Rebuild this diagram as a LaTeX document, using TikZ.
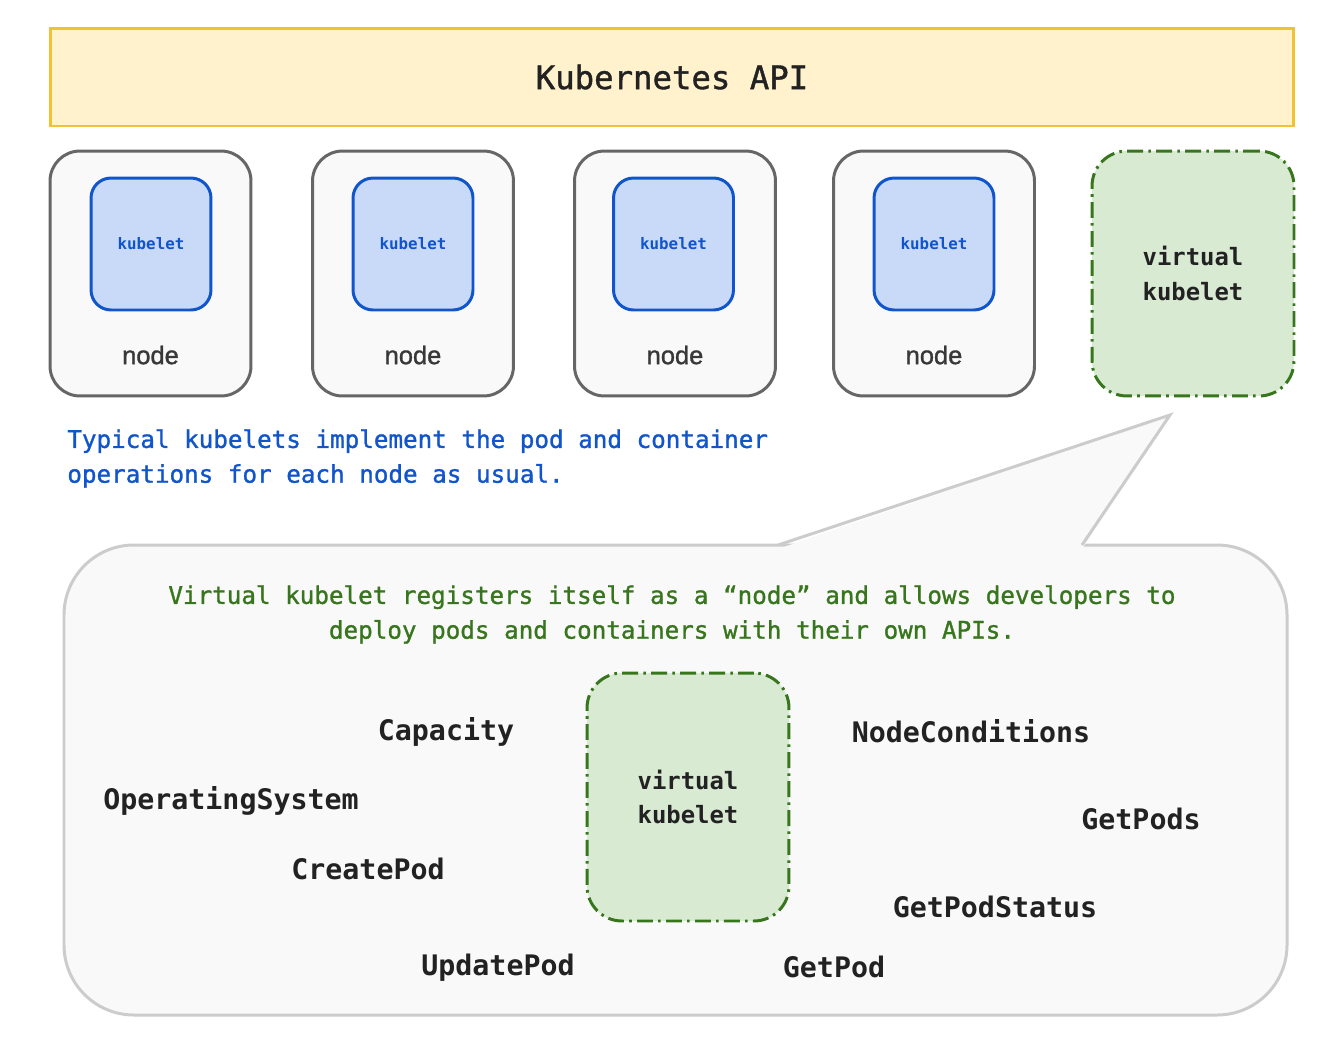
\documentclass[tikz,border=0pt]{standalone}
\usepackage{fontspec}
\setmainfont{Liberation Sans}
\setmonofont{DejaVu Sans Mono}
\newfontfamily\medmono[FakeBold=1.2]{DejaVu Sans Mono}
\newfontfamily\medsans[FakeBold=1.2]{Liberation Sans}
\usetikzlibrary{positioning}
\definecolor{apifill}{HTML}{FFF2CC}
\definecolor{apiline}{HTML}{F1C232}
\definecolor{boxfill}{HTML}{F9F9F9}
\definecolor{boxline}{HTML}{666666}
\definecolor{kubefill}{HTML}{C9DAF8}
\definecolor{kubeblue}{HTML}{1155CC}
\definecolor{vkfill}{HTML}{D9EAD3}
\definecolor{vkgreen}{HTML}{38761D}
\definecolor{calloutline}{HTML}{CCCCCC}
\definecolor{textdark}{HTML}{222222}

\begin{document}
\begin{tikzpicture}[x=0.02cm, y=-0.02cm,
    nodebox/.style={draw=boxline, line width=1.7pt, fill=boxfill, rounded corners=0.6cm, minimum width=4.02cm, minimum height=4.9cm},
    kubebox/.style={draw=kubeblue, line width=1.7pt, fill=kubefill, rounded corners=0.4cm, minimum width=2.4cm, minimum height=2.64cm, text=kubeblue, font=\ttfamily\bfseries\fontsize{9}{11}\selectfont},
    vkbox/.style={draw=vkgreen, line width=1.7pt, dash pattern=on 9pt off 3pt on 1.5pt off 3pt, fill=vkfill, rounded corners=0.7cm, minimum width=4.04cm, minimum height=4.9cm, align=center, text=textdark, font=\ttfamily\bfseries\fontsize{13.6}{19.8}\selectfont},
    nodelabel/.style={text=textdark!90, font=\medsans\fontsize{14.5}{17}\selectfont},
    apiname/.style={text=textdark, font=\medmono\fontsize{18.4}{22}\selectfont},
    note/.style={font=\medmono\fontsize{13.8}{19.8}\selectfont},
    op/.style={text=textdark, font=\ttfamily\bfseries\fontsize{16.1}{19}\selectfont}]

    \useasboundingbox[fill=white] (0,0) rectangle (1338,1056);

    % api bar
    \node (api) [draw=apiline, line width=1.7pt, fill=apifill, minimum width=24.88cm, minimum height=1.96cm, apiname] at (672,77) {Kubernetes API};

    % nodes with their kubelets
    \node (node1) [nodebox] at (150.5,273.5) {};
    \node (node2) [nodebox] at (413,273.5) {};
    \node (node3) [nodebox] at (675,273.5) {};
    \node (node4) [nodebox] at (934,273.5) {};
    \node (kube1) [kubebox] at (151,244) {kubelet};
    \node (kube2) [kubebox] at (413,244) {kubelet};
    \node (kube3) [kubebox] at (673.5,244) {kubelet};
    \node (kube4) [kubebox] at (934,244) {kubelet};
    \node (lbl1) [nodelabel] at (150.5,355) {node};
    \node (lbl2) [nodelabel] at (413,355) {node};
    \node (lbl3) [nodelabel] at (675,355) {node};
    \node (lbl4) [nodelabel] at (934,355) {node};
    \node (vk) [vkbox] at (1193,273.5) {virtual\\kubelet};

    \node (typical) [note, text=kubeblue, align=left, anchor=west, inner sep=0pt] at (67,458.5) {Typical kubelets implement the pod and container\\operations for each node as usual.};

    % callout
    \draw[calloutline, line width=1.7pt, fill=boxfill, rounded corners=1.4cm] (64,545) rectangle (1287,1015);
    \fill[boxfill] (778,549) -- (1170,415) -- (1082,549) -- cycle;
    \draw[calloutline, line width=1.7pt, line join=miter] (778,545) -- (1170,415) -- (1082,545);

    \node (virtual) [note, text=vkgreen, align=center] at (672,614.5) {Virtual kubelet registers itself as a “node” and allows developers to\\deploy pods and containers with their own APIs.};
    \node (vk2) [vkbox, minimum height=4.96cm] at (688,797) {virtual\\kubelet};

    % operations
    \node (capacity) [op] at (446,732) {Capacity};
    \node (opsys) [op] at (231,801) {OperatingSystem};
    \node (create) [op] at (368,869) {CreatePod};
    \node (update) [op] at (498,968) {UpdatePod};
    \node (getpod) [op] at (834,967) {GetPod};
    \node (status) [op] at (995,907) {GetPodStatus};
    \node (getpods) [op] at (1141,819) {GetPods};
    \node (conditions) [op] at (971,731) {NodeConditions};
\end{tikzpicture}
\end{document}
